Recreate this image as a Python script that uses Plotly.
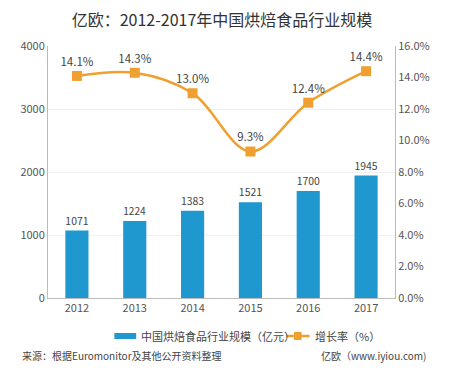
import plotly.graph_objects as go

years = ["2012", "2013", "2014", "2015", "2016", "2017"]
scale = [1071, 1224, 1383, 1521, 1700, 1945]
growth = [14.1, 14.3, 13.0, 9.3, 12.4, 14.4]
bar_name = "中国烘焙食品行业规模（亿元）"
line_name = "增长率（%）"

FONT = "Noto Sans CJK SC, Noto Sans, sans-serif"
BAR = "#1f98d0"
LINE = "#f0a030"

# the page body has an 8px margin; size the figure so it fits the 450x371 window
OFF = 8
W, H = 450 - 2 * OFF, 371 - 2 * OFF
# plot area in window pixels: x 37..403, y 46..298
L, T = 37 - OFF, 46 - OFF
R, B = W - (403 - OFF), H - (298 - OFF)
PW, PH = W - L - R, H - T - B


def px(x):  # window pixel -> paper x
    return (x - OFF - L) / PW


def py(y):  # window pixel -> paper y
    return (H - B - (y - OFF)) / PH


fig = go.Figure()
fig.add_trace(go.Bar(
    x=years, y=scale, name=bar_name,
    marker=dict(color=BAR, line=dict(width=0)), width=0.4,
    text=[str(v) for v in scale], textposition="outside",
    textfont=dict(size=11.5, color="#444"), cliponaxis=False,
))
fig.add_trace(go.Scatter(
    x=years, y=growth, name=line_name, yaxis="y2",
    mode="lines+markers+text",
    line=dict(color=LINE, width=2.5, shape="spline", smoothing=1.0),
    marker=dict(symbol="square", size=10, color=LINE),
    text=[f"{v:.1f}%" for v in growth], textposition="top center",
    textfont=dict(size=11.5, color="#444"), cliponaxis=False,
))

fig.update_layout(
    width=W, height=H,
    margin=dict(l=L, r=R, t=T, b=B),
    paper_bgcolor="white", plot_bgcolor="white",
    font=dict(family=FONT, size=11, color="#555"),
    title=dict(text="亿欧：2012-2017年中国烘焙食品行业规模", x=(222 - OFF) / W, xanchor="center",
               y=1 - (20 - OFF) / H, yanchor="middle", font=dict(size=16, color="#333")),
    showlegend=False,
    bargap=0.6,
    xaxis=dict(showline=True, linecolor="#bbb", linewidth=1, ticks="",
               tickfont=dict(size=11, color="#555")),
    yaxis=dict(range=[0, 4000], dtick=1000, showline=True, linecolor="#bbb",
               gridcolor="#f0f0f0", zeroline=False, tickfont=dict(size=11, color="#555")),
    yaxis2=dict(range=[0, 16], dtick=2, overlaying="y", side="right", showline=True,
                linecolor="#bbb", showgrid=False, zeroline=False,
                ticksuffix="%", tickformat=".1f", tickfont=dict(size=11, color="#555")),
)

# manual legend
ly = 336
fig.add_shape(type="rect", xref="paper", yref="paper",
              x0=px(107), x1=px(130), y0=py(333), y1=py(339),
              fillcolor=BAR, line=dict(width=0))
fig.add_annotation(text=bar_name, xref="paper", yref="paper", x=px(133), y=py(ly),
                   xanchor="left", yanchor="middle", showarrow=False,
                   font=dict(size=11, color="#444"))
fig.add_shape(type="line", xref="paper", yref="paper",
              x0=px(288), x1=px(313), y0=py(ly), y1=py(ly),
              line=dict(color=LINE, width=2.5))
fig.add_shape(type="rect", xref="paper", yref="paper",
              x0=px(296.5), x1=px(304.5), y0=py(332), y1=py(340),
              fillcolor=LINE, line=dict(width=0))
fig.add_annotation(text=line_name, xref="paper", yref="paper", x=px(316), y=py(ly),
                   xanchor="left", yanchor="middle", showarrow=False,
                   font=dict(size=11, color="#444"))

# source notes
fig.add_annotation(text="来源：根据Euromonitor及其他公开资料整理", xref="paper", yref="paper",
                   x=px(9), y=py(355), xanchor="left", yanchor="middle", showarrow=False,
                   font=dict(size=10, color="#444"), borderpad=0)
fig.add_annotation(text="亿欧（www.iyiou.com)", xref="paper", yref="paper",
                   x=px(437), y=py(355), xanchor="right", yanchor="middle", showarrow=False,
                   font=dict(size=10, color="#444"), borderpad=0)

fig.write_html("out.html")
